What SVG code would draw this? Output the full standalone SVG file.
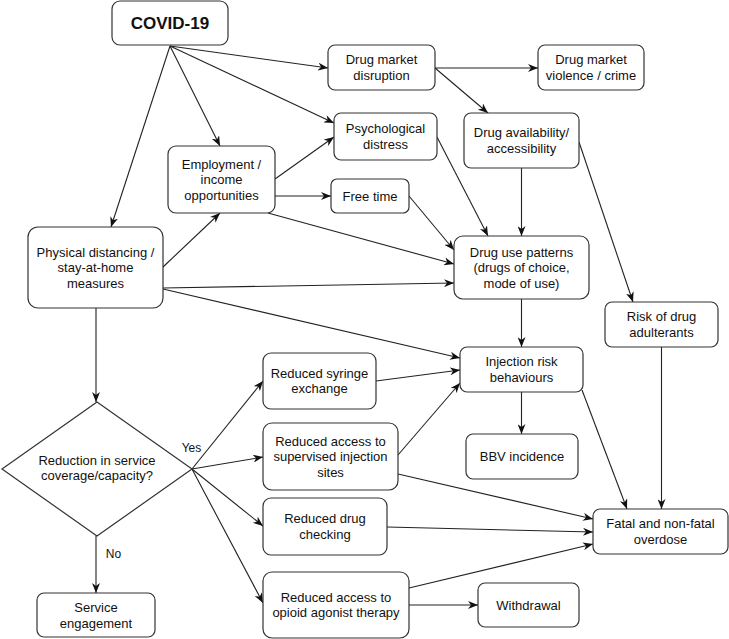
<svg xmlns="http://www.w3.org/2000/svg" width="729" height="639" viewBox="0 0 729 639">
<style>
.n rect,.n polygon{fill:#fff;stroke:#333;stroke-width:1.2}
text{font-family:"Liberation Sans",Arial,Helvetica,sans-serif;font-size:13px;fill:#111;text-anchor:middle}
.b{font-weight:bold;font-size:17px}
.lbl{font-size:12px}
#edges line{stroke:#222;stroke-width:1.1;fill:none;marker-end:url(#ar)}
#edges line.na{marker-end:none}
</style>
<defs>
<marker id="ar" markerUnits="userSpaceOnUse" markerWidth="10" markerHeight="8" viewBox="0 0 10 8" refX="10" refY="4" orient="auto">
<path d="M0,0 L10,4 L0,8 L3,4 z" fill="#111"/>
</marker>
</defs>
<rect width="729" height="639" fill="#fff"/>
<g id="edges">
<line x1="170" y1="46" x2="328" y2="68"/>
<line x1="170" y1="46" x2="334" y2="123"/>
<line x1="170" y1="46" x2="220" y2="146"/>
<line x1="170" y1="46" x2="111" y2="227"/>
<line x1="275" y1="179" x2="334" y2="137"/>
<line x1="275" y1="196" x2="331" y2="196"/>
<line x1="268" y1="213" x2="454" y2="264"/>
<line x1="163" y1="267" x2="220" y2="213"/>
<line x1="163" y1="288" x2="454" y2="283"/>
<line x1="163" y1="289" x2="460" y2="358"/>
<line x1="96" y1="308" x2="96" y2="402"/>
<line x1="435" y1="68" x2="538" y2="68"/>
<line x1="435" y1="68" x2="488" y2="113"/>
<line x1="437" y1="137" x2="488" y2="236"/>
<line x1="409" y1="196" x2="454" y2="250"/>
<line x1="521.5" y1="168" x2="521.5" y2="236"/>
<line x1="579" y1="142" x2="633" y2="302"/>
<line x1="521.5" y1="299" x2="521.5" y2="347"/>
<line x1="521.5" y1="392" x2="521.5" y2="434"/>
<line x1="582" y1="390" x2="627" y2="509"/>
<line x1="661.5" y1="347" x2="661.5" y2="509"/>
<line x1="376" y1="381" x2="460" y2="370"/>
<line x1="398" y1="455" x2="460" y2="383"/>
<line x1="398" y1="474" x2="593" y2="519"/>
<line x1="387" y1="527" x2="593" y2="532"/>
<line x1="409" y1="588" x2="593" y2="544"/>
<line x1="409" y1="605" x2="478" y2="605"/>
<line x1="192" y1="469" x2="263" y2="381"/>
<line x1="192" y1="469" x2="263" y2="457"/>
<line x1="192" y1="469" x2="263" y2="526"/>
<line x1="192" y1="469" x2="263" y2="603"/>
<line x1="96" y1="536" x2="96" y2="593"/>
<text class="lbl" x="191.5" y="452">Yes</text>
<text class="lbl" x="113.5" y="558">No</text>
</g>
<g id="covid" class="n"><rect x="112" y="1" width="116" height="44" rx="8"/><text class="b" x="170" y="29">COVID-19</text></g>
<g id="market-disruption" class="n"><rect x="328" y="45" width="107" height="45" rx="7"/><text x="381.5" y="64.25">Drug market</text><text x="381.5" y="79.75">disruption</text></g>
<g id="market-violence" class="n"><rect x="538" y="45" width="106" height="45" rx="7"/><text x="591" y="64.25">Drug market</text><text x="591" y="79.75">violence / crime</text></g>
<g id="psych" class="n"><rect x="334" y="113" width="103" height="47" rx="7"/><text x="385.5" y="133.25">Psychological</text><text x="385.5" y="148.75">distress</text></g>
<g id="availability" class="n"><rect x="464" y="113" width="115" height="55" rx="7"/><text x="521.5" y="137.25">Drug availability/</text><text x="521.5" y="152.75">accessibility</text></g>
<g id="employment" class="n"><rect x="168" y="146" width="107" height="67" rx="8"/><text x="221.5" y="168.5">Employment /</text><text x="221.5" y="184">income</text><text x="221.5" y="199.5">opportunities</text></g>
<g id="free-time" class="n"><rect x="331" y="179" width="78" height="34" rx="6"/><text x="370" y="200.5">Free time</text></g>
<g id="distancing" class="n"><rect x="28" y="227" width="135" height="81" rx="10"/><text x="95.5" y="256.5">Physical distancing /</text><text x="95.5" y="272">stay-at-home</text><text x="95.5" y="287.5">measures</text></g>
<g id="use-patterns" class="n"><rect x="454" y="236" width="135" height="63" rx="9"/><text x="521.5" y="256.5">Drug use patterns</text><text x="521.5" y="272">(drugs of choice,</text><text x="521.5" y="287.5">mode of use)</text></g>
<g id="adulterants" class="n"><rect x="605" y="302" width="113" height="45" rx="7"/><text x="661.5" y="321.25">Risk of drug</text><text x="661.5" y="336.75">adulterants</text></g>
<g id="injection-risk" class="n"><rect x="460" y="347" width="123" height="45" rx="7"/><text x="521.5" y="366.25">Injection risk</text><text x="521.5" y="381.75">behaviours</text></g>
<g id="syringe" class="n"><rect x="263" y="353" width="113" height="56" rx="8"/><text x="319.5" y="377.75">Reduced syringe</text><text x="319.5" y="393.25">exchange</text></g>
<g id="bbv" class="n"><rect x="466" y="434" width="112" height="45" rx="7"/><text x="522" y="461">BBV incidence</text></g>
<g id="supervised" class="n"><rect x="263" y="423" width="135" height="67" rx="9"/><text x="330.5" y="445.5">Reduced access to</text><text x="330.5" y="461">supervised injection</text><text x="330.5" y="476.5">sites</text></g>
<g id="checking" class="n"><rect x="263" y="498" width="124" height="57" rx="8"/><text x="325" y="523.25">Reduced drug</text><text x="325" y="538.75">checking</text></g>
<g id="overdose" class="n"><rect x="593" y="509" width="135" height="45" rx="7"/><text x="660.5" y="528.25">Fatal and non-fatal</text><text x="660.5" y="543.75">overdose</text></g>
<g id="oat" class="n"><rect x="263" y="572" width="146" height="66" rx="9"/><text x="336" y="601.75">Reduced access to</text><text x="336" y="617.25">opioid agonist therapy</text></g>
<g id="withdrawal" class="n"><rect x="478" y="583" width="101" height="44" rx="7"/><text x="528.5" y="609.5">Withdrawal</text></g>
<g id="service" class="n"><rect x="37" y="593" width="118" height="44" rx="7"/><text x="96" y="612.25">Service</text><text x="96" y="627.75">engagement</text></g>
<g id="decision" class="n"><polygon points="97,402 192,469 97,536 2,469"/><text x="97" y="464.75">Reduction in service</text><text x="97" y="480.25">coverage/capacity?</text></g>
</svg>
